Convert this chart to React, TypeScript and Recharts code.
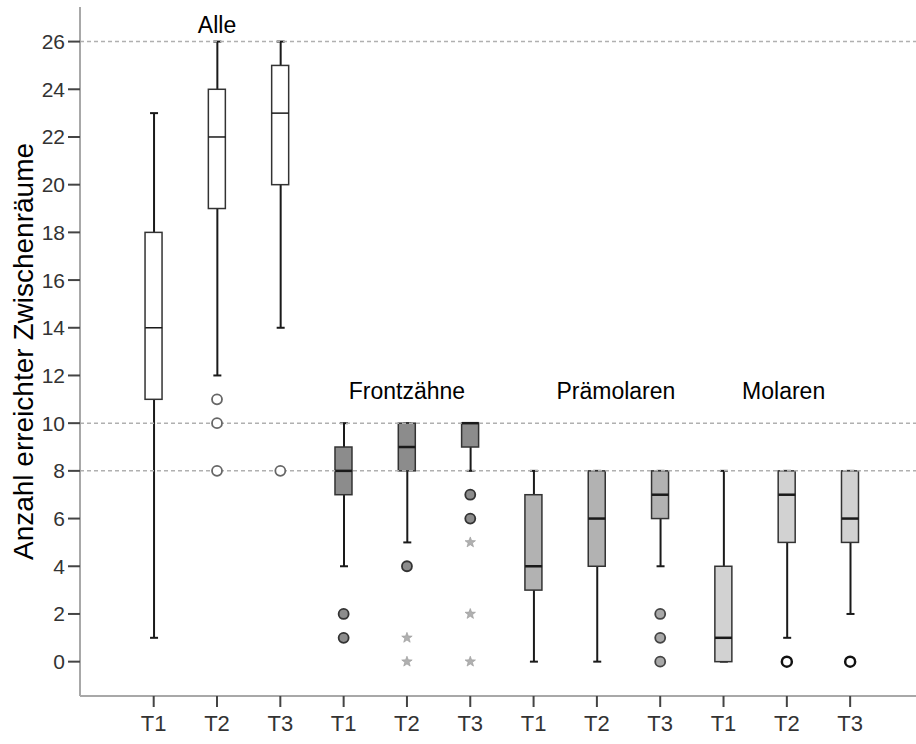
import { ComposedChart, Bar, Scatter, XAxis, YAxis, ReferenceLine, Label } from "recharts";

// one box per column, left to right
const timeLabels = ["T1", "T2", "T3", "T1", "T2", "T3", "T1", "T2", "T3", "T1", "T2", "T3"];
const groupOf = [0, 0, 0, 1, 1, 1, 2, 2, 2, 3, 3, 3];
const lows = [1, 12, 14, 4, 5, 8, 0, 0, 4, 0, 1, 2];
const q1s = [11, 19, 20, 7, 8, 9, 3, 4, 6, 0, 5, 5];
const medians = [14, 22, 23, 8, 9, 10, 4, 6, 7, 1, 7, 6];
const q3s = [18, 24, 25, 9, 10, 10, 7, 8, 8, 4, 8, 8];
const highs = [23, 26, 26, 10, 10, 10, 8, 8, 8, 8, 8, 8];

// outliers: [column (1-based), value]
const circleOutliers = [
  [2, 11], [2, 10], [2, 8], [3, 8],
  [4, 2], [4, 1], [5, 4], [6, 7], [6, 6],
  [9, 2], [9, 1], [9, 0],
  [11, 0], [12, 0],
];
const starOutliers = [[5, 1], [5, 0], [6, 5], [6, 2], [6, 0]];

const groupNames = ["Alle", "Frontzähne", "Prämolaren", "Molaren"];
const groupLabelPos = [2, 5, 8.3, 10.95];
const groupLabelValue = [26.36, 11, 11, 11];

const guideValues = [26, 10, 8];
const yTicks = [0, 2, 4, 6, 8, 10, 12, 14, 16, 18, 20, 22, 24, 26];
const xTicks = timeLabels.map((_, i) => i + 1);

const rows = timeLabels.map((t, i) => ({
  pos: i + 1,
  group: groupOf[i],
  whisker: [lows[i], highs[i]],
  box: [q1s[i], q3s[i]],
  median: medians[i],
}));
const circleRows = circleOutliers.map(([pos, value]) => ({ pos, value, group: groupOf[pos - 1] }));
const starRows = starOutliers.map(([pos, value]) => ({ pos, value }));
const labelRows = groupNames.map((name, i) => ({ pos: groupLabelPos[i], value: groupLabelValue[i], name }));

const boxFill = ["#ffffff", "#8c8c8c", "#b2b2b2", "#d2d2d2"];
const circleFill = ["#ffffff", "#8c8c8c", "#a8a8a8", "#ffffff"];
const circleStroke = ["#666666", "#333333", "#444444", "#111111"];
const BOX_W = 17;
const X_DOMAIN: [number, number] = [-0.164, 13.04];

const Whisker = (props: any) => {
  const { x, y, width, height } = props;
  const cx = x + width / 2;
  return (
    <g stroke="#1a1a1a" strokeWidth={2}>
      <line x1={cx} x2={cx} y1={y} y2={y + height} />
      <line x1={cx - 4} x2={cx + 4} y1={y} y2={y} />
      <line x1={cx - 4} x2={cx + 4} y1={y + height} y2={y + height} />
    </g>
  );
};

const Box = (props: any) => {
  const { x, y, width, height, payload } = props;
  const cx = x + width / 2;
  return (
    <rect
      x={cx - BOX_W / 2}
      y={y}
      width={BOX_W}
      height={height}
      fill={boxFill[payload.group]}
      stroke="#333"
      strokeWidth={1.5}
    />
  );
};

const Median = (props: any) => {
  const { cx, cy, payload } = props;
  return (
    <line
      x1={cx - BOX_W / 2}
      x2={cx + BOX_W / 2}
      y1={cy}
      y2={cy}
      stroke="#1a1a1a"
      strokeWidth={payload.group === 0 ? 1.5 : 2.5}
    />
  );
};

const Circle = (props: any) => {
  const { cx, cy, payload } = props;
  const g = payload.group;
  return (
    <circle cx={cx} cy={cy} r={5} fill={circleFill[g]} stroke={circleStroke[g]} strokeWidth={g === 3 ? 2.5 : 1.8} />
  );
};

const Star = (props: any) => {
  const { cx, cy } = props;
  const pts: string[] = [];
  for (let k = 0; k < 10; k++) {
    const r = k % 2 === 0 ? 5.5 : 2.3;
    const a = -Math.PI / 2 + (k * Math.PI) / 5;
    pts.push(`${cx + r * Math.cos(a)},${cy + r * Math.sin(a)}`);
  }
  return <polygon points={pts.join(" ")} fill="#b0b0b0" stroke="#999" strokeWidth={0.6} />;
};

const GroupText = (props: any) => {
  const { cx, cy, payload } = props;
  return (
    <text x={cx} y={cy} textAnchor="middle" fontSize={23} fill="#000">
      {payload.name}
    </text>
  );
};

const YTitle = (props: any) => {
  const { viewBox } = props;
  const cy = viewBox.y + viewBox.height / 2;
  const x = 33;
  return (
    <text x={x} y={cy} transform={`rotate(-90 ${x} ${cy})`} textAnchor="middle" fontSize={28} fill="#000">
      Anzahl erreichter Zwischenräume
    </text>
  );
};

export default function App() {
  return (
    <div
      style={{
        position: "absolute",
        left: 0,
        top: 0,
        width: 916,
        height: 744,
        background: "#fff",
        fontFamily: "'Liberation Sans', Arial, sans-serif",
      }}
    >
      <ComposedChart width={916} height={744} data={rows} margin={{ top: 7, right: 0, bottom: 0, left: 0 }}>
        <XAxis
          xAxisId="a"
          dataKey="pos"
          type="number"
          domain={X_DOMAIN}
          allowDataOverflow
          ticks={xTicks}
          interval={0}
          tickFormatter={(v: number) => timeLabels[v - 1]}
          height={48}
          tickSize={11}
          tickMargin={8}
          axisLine={{ stroke: "#a8a8a8", strokeWidth: 2 }}
          tickLine={{ stroke: "#444", strokeWidth: 2 }}
          tick={{ fontSize: 22, fill: "#333" }}
        />
        <XAxis xAxisId="b" dataKey="pos" type="number" domain={X_DOMAIN} allowDataOverflow hide />
        <YAxis
          type="number"
          domain={[-1.44, 27.45]}
          allowDataOverflow
          ticks={yTicks}
          interval={0}
          width={80}
          tickSize={12}
          tickMargin={3}
          axisLine={{ stroke: "#a8a8a8", strokeWidth: 2 }}
          tickLine={{ stroke: "#444", strokeWidth: 2 }}
          tick={{ fontSize: 21, fill: "#333" }}
        >
          <Label content={YTitle} />
        </YAxis>
        {guideValues.map((v) => (
          <ReferenceLine key={v} xAxisId="a" y={v} stroke="#b0b0b0" strokeWidth={1.5} strokeDasharray="4 3" />
        ))}
        <Bar xAxisId="b" dataKey="whisker" barSize={10} shape={Whisker} isAnimationActive={false} />
        <Bar xAxisId="a" dataKey="box" barSize={BOX_W} shape={Box} isAnimationActive={false} />
        <Scatter xAxisId="a" data={rows} dataKey="median" shape={Median} isAnimationActive={false} />
        <Scatter xAxisId="a" data={circleRows} dataKey="value" shape={Circle} isAnimationActive={false} />
        <Scatter xAxisId="a" data={starRows} dataKey="value" shape={Star} isAnimationActive={false} />
        <Scatter xAxisId="a" data={labelRows} dataKey="value" shape={GroupText} isAnimationActive={false} />
      </ComposedChart>
    </div>
  );
}
